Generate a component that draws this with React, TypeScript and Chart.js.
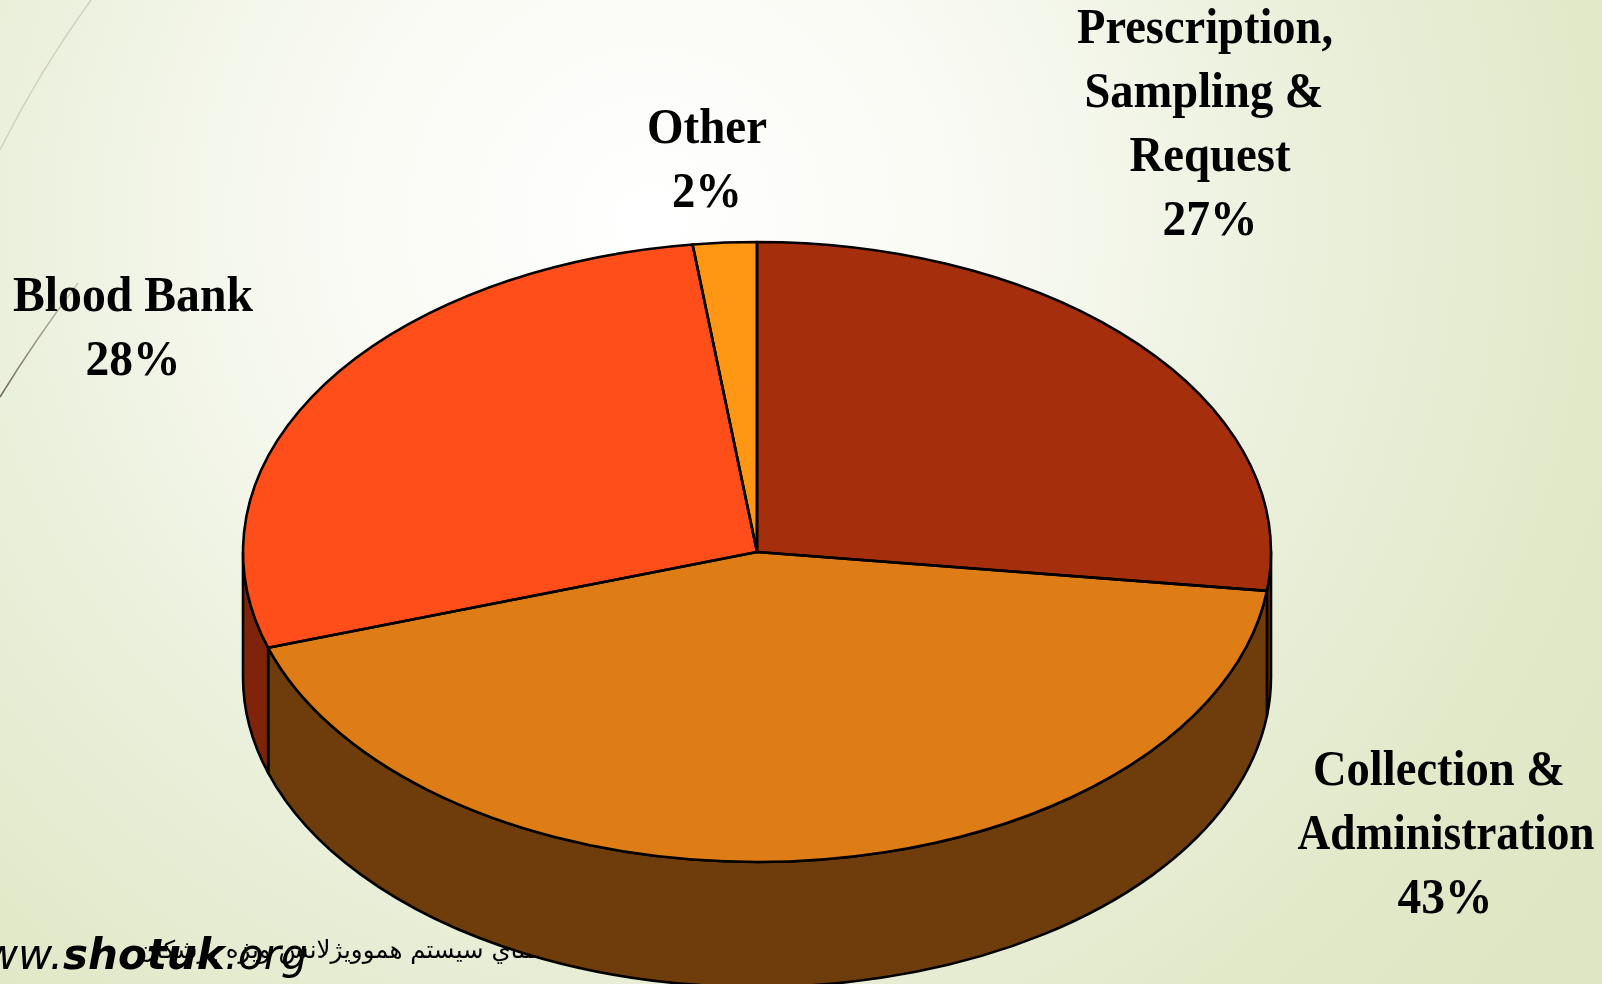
import React, { useEffect, useRef } from "react";
import { Chart, registerables } from "chart.js";

Chart.register(...registerables);

const categories = ["Prescription, Sampling & Request", "Collection & Administration", "Blood Bank", "Other"];
const shares = [27, 43, 28, 2];
const topColors = ["#A52F0D", "#DE7D15", "#FF4E19", "#FF9614"];
const wallColors = ["#7F240B", "#6E3D0B", "#7F240B", "#7F4B0A"];

const labelLines = [
  ["Prescription,", "Sampling &", "Request", "27%"],
  ["Collection &", "Administration", "43%"],
  ["Blood Bank", "28%"],
  ["Other", "2%"],
];
const labelCenters = [
  [[1205, 43], [1204, 107], [1210, 171], [1210, 235]],
  [[1439, 785], [1446, 849], [1445, 913]],
  [[133, 311], [133, 375]],
  [[707, 143], [707, 207]],
];
const labelWidths = [
  [256, 239, 161, 95],
  [252, 297, 95],
  [240, 95],
  [120, 70],
];

const SQUASH = 310 / 514;
const DEPTH = 125;
const STROKE = 2.6;

const pie3d = {
  id: "pie3d",
  beforeDatasetsDraw(chart: any) {
    const ctx = chart.ctx;
    const arcs = chart.getDatasetMeta(0).data;
    const { x, y, outerRadius } = arcs[0];
    const ry = outerRadius * SQUASH;
    ctx.save();
    ctx.lineWidth = STROKE;
    ctx.strokeStyle = "#000";
    ctx.lineJoin = "round";
    arcs.forEach((a: any, i: number) => {
      const segments: [number, number][] = [];
      const s = a.startAngle;
      const e = a.endAngle;
      for (let k = -1; k < 2; k++) {
        const lo = Math.max(s, k * 2 * Math.PI);
        const hi = Math.min(e, k * 2 * Math.PI + Math.PI);
        if (hi > lo) segments.push([lo, hi]);
      }
      segments.forEach(([lo, hi]) => {
        ctx.beginPath();
        ctx.ellipse(x, y, outerRadius, ry, 0, lo, hi, false);
        ctx.lineTo(x + outerRadius * Math.cos(hi), y + ry * Math.sin(hi) + DEPTH);
        ctx.ellipse(x, y + DEPTH, outerRadius, ry, 0, hi, lo, true);
        ctx.closePath();
        ctx.fillStyle = wallColors[i];
        ctx.fill();
        ctx.stroke();
      });
    });
    ctx.restore();
    ctx.save();
    ctx.translate(0, y);
    ctx.scale(1, SQUASH);
    ctx.translate(0, -y);
  },
  afterDatasetsDraw(chart: any) {
    const ctx = chart.ctx;
    ctx.restore();
    const arcs = chart.getDatasetMeta(0).data;
    ctx.save();
    ctx.lineWidth = STROKE;
    ctx.strokeStyle = "#000";
    ctx.lineJoin = "round";
    arcs.forEach((a: any) => {
      const ry = a.outerRadius * SQUASH;
      ctx.beginPath();
      ctx.moveTo(a.x, a.y);
      ctx.ellipse(a.x, a.y, a.outerRadius, ry, 0, a.startAngle, a.endAngle, false);
      ctx.closePath();
      ctx.stroke();
    });
    ctx.fillStyle = "#000";
    ctx.font = 'bold 50px "Liberation Serif"';
    ctx.textAlign = "center";
    ctx.textBaseline = "alphabetic";
    labelLines.forEach((lines, i) => {
      lines.forEach((line, j) => {
        const [lx, ly] = labelCenters[i][j];
        const natural = ctx.measureText(line).width;
        ctx.save();
        ctx.translate(lx, ly);
        ctx.scale(labelWidths[i][j] / natural, 1);
        ctx.fillText(line, 0, 0);
        ctx.restore();
      });
    });
    ctx.restore();
  },
  beforeDraw(chart: any) {
    const ctx = chart.ctx;
    ctx.save();
    const g = ctx.createRadialGradient(650, 220, 0, 650, 220, 1150);
    g.addColorStop(0, "#FFFFFF");
    g.addColorStop(0.3, "#F8FAF2");
    g.addColorStop(0.57, "#EBF0DC");
    g.addColorStop(0.83, "#E2E9C9");
    g.addColorStop(1, "#DEE6C4");
    ctx.fillStyle = g;
    ctx.fillRect(0, 0, 1602, 984);

    ctx.strokeStyle = "#CFCFBE";
    ctx.lineWidth = 1.5;
    ctx.beginPath();
    ctx.moveTo(91, 0);
    ctx.quadraticCurveTo(40, 70, 0, 150);
    ctx.stroke();

    const fade = ctx.createLinearGradient(0, 397, 78, 283);
    fade.addColorStop(0, "#6F6A55");
    fade.addColorStop(1, "#C9C9B6");
    ctx.strokeStyle = fade;
    ctx.lineWidth = 1.5;
    ctx.beginPath();
    ctx.moveTo(78, 283);
    ctx.quadraticCurveTo(35, 340, 0, 397);
    ctx.stroke();

    ctx.fillStyle = "#000";
    ctx.font = '24.5px "DejaVu Sans"';
    ctx.direction = "rtl";
    ctx.textAlign = "left";
    ctx.textBaseline = "alphabetic";
    ctx.fillText("راهنماي سيستم هموويژلانس ويژه پزشكان", 138, 958);
    ctx.direction = "ltr";
    ctx.font = 'oblique 42px "DejaVu Sans"';
    ctx.textAlign = "right";
    ctx.fillText("www.", 63, 969);
    ctx.textAlign = "left";
    ctx.font = 'italic bold 42px "DejaVu Sans"';
    ctx.fillText("shotuk", 63, 969);
    const w = ctx.measureText("shotuk").width;
    ctx.font = 'oblique 42px "DejaVu Sans"';
    ctx.fillText(".org", 63 + w, 969);
    ctx.restore();
  },
};

export default function App() {
  const ref = useRef<HTMLCanvasElement | null>(null);
  useEffect(() => {
    const chart = new Chart(ref.current as HTMLCanvasElement, {
      type: "pie",
      data: {
        labels: categories,
        datasets: [
          {
            data: shares,
            backgroundColor: topColors,
            borderWidth: 0,
            clip: false,
          } as any,
        ],
      },
      options: {
        responsive: false,
        animation: false,
        radius: 514,
        layout: { padding: { left: 0, right: 88, top: 120, bottom: 0 } },
        plugins: { legend: { display: false }, tooltip: { enabled: false } },
      } as any,
      plugins: [pie3d],
    });
    return () => chart.destroy();
  }, []);
  return (
    <div style={{ position: "fixed", left: 0, top: 0, width: 1602, height: 984, overflow: "hidden" }}>
      <canvas ref={ref} width={1602} height={984} style={{ display: "block" }} />
    </div>
  );
}
